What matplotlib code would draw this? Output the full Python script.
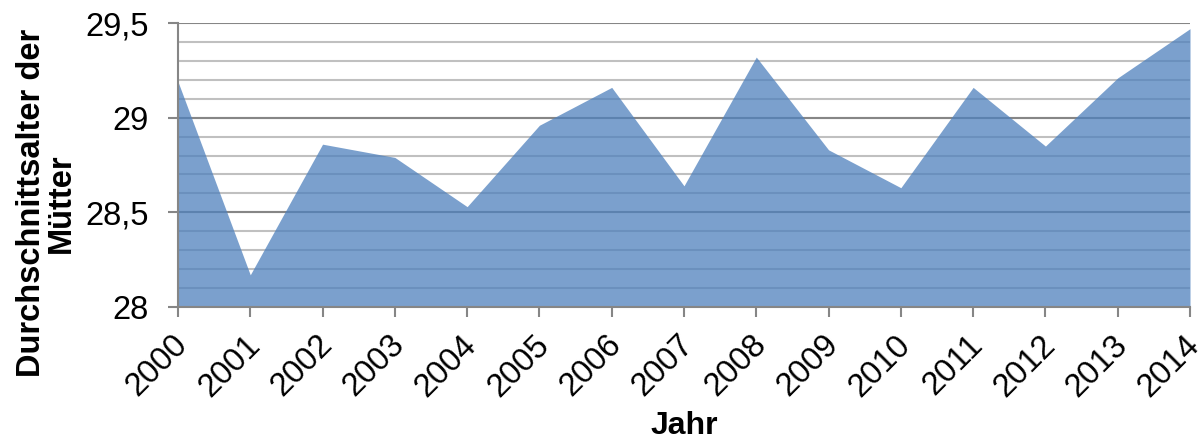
import matplotlib.pyplot as plt
import matplotlib.transforms as mtransforms
import numpy as np

# Durchschnittsalter der Mütter pro Jahr
years = [2000, 2001, 2002, 2003, 2004, 2005, 2006, 2007,
         2008, 2009, 2010, 2011, 2012, 2013, 2014]
ages = [29.19, 28.17, 28.86, 28.79, 28.53, 28.96, 29.16, 28.64,
        29.32, 28.83, 28.63, 29.16, 28.85, 29.21, 29.47]
y_ticks = [28, 28.5, 29, 29.5]
y_labels = ['28', '28,5', '29', '29,5']

plt.rcParams['font.family'] = ['Liberation Sans', 'DejaVu Sans']

fig = plt.figure(figsize=(12.03, 4.43), dpi=100)
ax = fig.add_axes([178 / 1203, 1 - 307 / 443, (1190 - 178) / 1203, (307 - 23) / 443])

# gridlines first, fill drawn semi-transparent on top
for v in np.arange(28.1, 29.5, 0.1):
    ax.axhline(v, color='#c0c0c0', linewidth=1.5, zorder=1)
for v in [28.5, 29, 29.5]:
    ax.axhline(v, color='#868686', linewidth=1.5, zorder=1)

ax.fill_between(years, ages, 28, color='#4f81bd', alpha=0.75,
                linewidth=0, zorder=2)

ax.set_xlim(2000, 2014)
ax.set_ylim(28, 29.5)
ax.set_xticks(years)
ax.set_xticklabels([str(y) for y in years], rotation=45, ha='right',
                   rotation_mode='anchor', fontsize=23.5)
ax.set_yticks(y_ticks)
ax.set_yticklabels(y_labels, fontsize=23.5)
ax.tick_params(axis='both', color='#868686', length=7, width=1.5)
ax.tick_params(axis='y', pad=14)
ax.tick_params(axis='x', pad=9)

# nudge the rotated year labels a little to the left
shift = mtransforms.ScaledTranslation(-6 / 100, 0, fig.dpi_scale_trans)
for lbl in ax.get_xticklabels():
    lbl.set_transform(lbl.get_transform() + shift)

for side in ['top', 'right']:
    ax.spines[side].set_visible(False)
for side in ['left', 'bottom']:
    ax.spines[side].set_color('#868686')
    ax.spines[side].set_linewidth(1.5)
    ax.spines[side].set_zorder(3)

ax.set_xlabel('Jahr', fontsize=23, fontweight='bold')
ax.xaxis.set_label_coords(0.5, -(411 - 307) / 284)
ax.set_ylabel('Durchschnittsalter der\nMütter', fontsize=23.5,
              fontweight='bold', linespacing=0.95)
ax.yaxis.set_label_coords(-(178 - 77) / 1012, (307 - 203) / 284)

fig.savefig('out.png', dpi=100)
